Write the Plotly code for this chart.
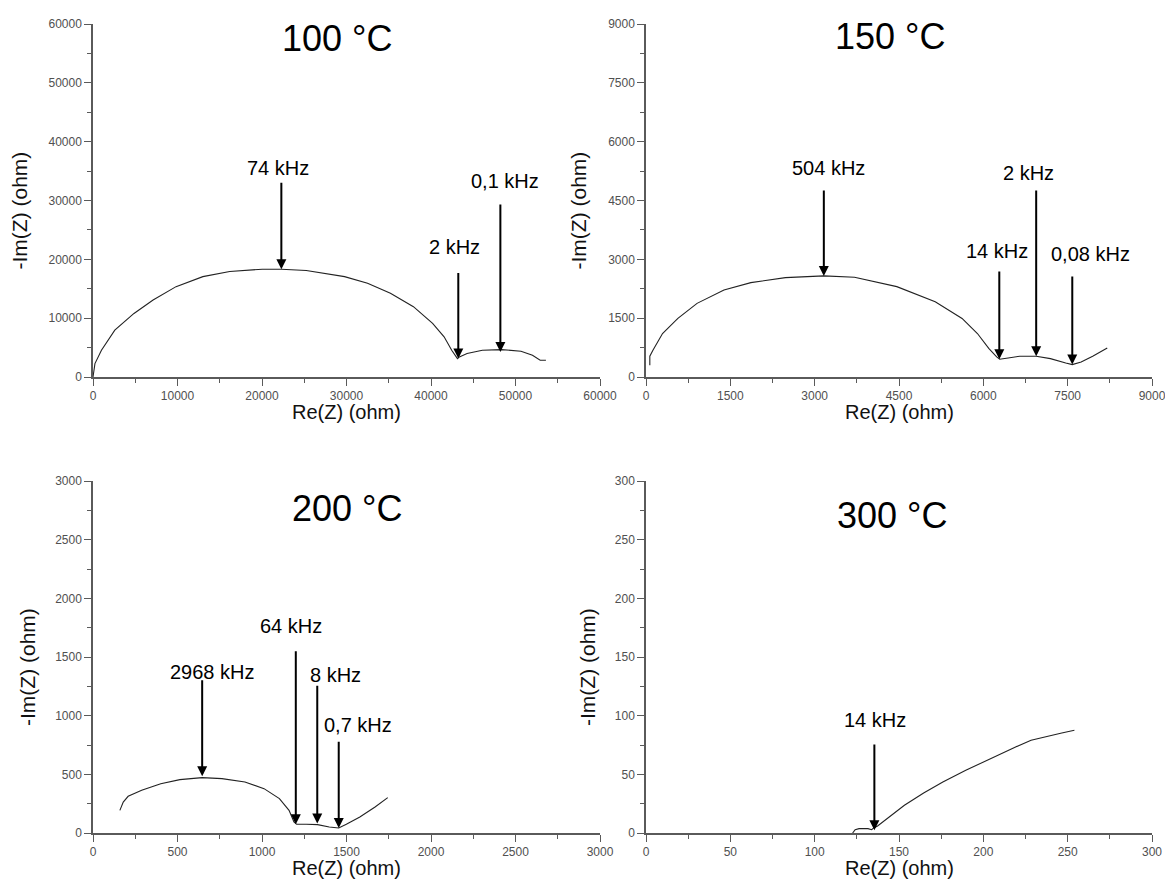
import plotly.graph_objects as go

# ---------------- data ----------------
re100 = [0, 230, 1000, 2580, 4850, 7110, 9830, 13000, 16180, 20030, 22290, 25240, 29770,
         32490, 35200, 37920, 40190, 41550, 42450, 43130, 43360, 44270, 46080, 48340,
         50650, 52010, 52920, 53600]
im100 = [0, 2275, 4550, 7960, 10800, 13080, 15360, 17060, 17920, 18320, 18320, 18090, 17060,
         15930, 14220, 11950, 9100, 6830, 4550, 3130, 3410, 3980, 4550, 4660,
         4380, 3700, 2840, 2840]

re150 = [68, 68, 123, 294, 567, 908, 1387, 1865, 2480, 3163, 3709, 4461, 5144, 5622, 5895,
         6100, 6237, 6291, 6441, 6646, 6940, 7193, 7466, 7582, 7740, 7945, 8204]
im150 = [299, 529, 683, 1109, 1493, 1877, 2218, 2406, 2534, 2577, 2543, 2304, 1920, 1493, 1109,
         725, 512, 452, 486, 529, 529, 469, 358, 316, 384, 529, 742]

re200 = [159, 179, 208, 288, 401, 514, 646, 763, 899, 1012, 1103, 1160, 1189, 1205, 1262,
         1329, 1398, 1454, 1499, 1579, 1669, 1744]
im200 = [193, 264, 313, 364, 420, 455, 472, 463, 435, 378, 293, 193, 94, 74, 74,
         71, 51, 43, 74, 136, 222, 301]

re300 = [122.5, 124, 126.3, 131.6, 133.8, 135, 137.3, 144.1, 153.2, 164.6, 176, 189.6,
         203.3, 216.9, 228.3, 237.4, 246.5, 254]
im300 = [0, 2.8, 3.7, 3.7, 2.8, 4.3, 6, 13.6, 23.6, 34.1, 43.5, 53.4,
         62.8, 71.9, 79, 82.4, 85.2, 87.5]

titles = ["100 °C", "150 °C", "200 °C", "300 °C"]
axis_max = [60000, 9000, 3000, 300]
major_step = [10000, 1500, 500, 50]

# frequency markers: label, Re at arrow, head (-Im), tail (-Im)
freq100 = ["74 kHz", "2 kHz", "0,1 kHz"]
mark_x100 = [22290, 43230, 48210]
mark_head100 = [18320, 3130, 4270]
mark_tail100 = [33280, 17920, 29580]

freq150 = ["504 kHz", "14 kHz", "2 kHz", "0,08 kHz"]
mark_x150 = [3163, 6284, 6940, 7582]
mark_head150 = [2577, 452, 529, 316]
mark_tail150 = [4795, 2730, 4795, 2602]

freq200 = ["2968 kHz", "64 kHz", "8 kHz", "0,7 kHz"]
mark_x200 = [646, 1200, 1327, 1454]
mark_head200 = [483, 74, 80, 43]
mark_tail200 = [1315, 1562, 1267, 790]

freq300 = ["14 kHz"]
mark_x300 = [135.4]
mark_head300 = [2.3]
mark_tail300 = [76.7]

# ---------------- layout geometry ----------------
PAGE_OFF = 8                      # default body margin of the html page
W, H = 1173 - PAGE_OFF, 883 - PAGE_OFF
px_x = [(93, 600), (646, 1152), (93, 600), (646, 1152)]   # page pixels
px_y = [(24, 377), (24, 377), (481, 833), (481, 833)]

label_pos = [
    [(21930, 35550), (42820, 22180), (48710, 33280)],
    [(3245, 5333), (6250, 3200), (6803, 5205), (7910, 3140)],
    [(707, 1372), (1171, 1761), (1436, 1344), (1567, 923)],
    [(135.7, 96.6)],
]
title_pos = [(28860, 57570), (4344, 8677), (1500, 2764), (145.7, 270.7)]

series = [(re100, im100), (re150, im150), (re200, im200), (re300, im300)]
marks = [
    (freq100, mark_x100, mark_head100, mark_tail100),
    (freq150, mark_x150, mark_head150, mark_tail150),
    (freq200, mark_x200, mark_head200, mark_tail200),
    (freq300, mark_x300, mark_head300, mark_tail300),
]

FONT = "Liberation Sans, Arial, sans-serif"
AXC = "#5a5a5a"


def fx(p):
    return (p - PAGE_OFF) / W


def fy(p):
    return 1 - (p - PAGE_OFF) / H


fig = go.Figure()
layout = dict(
    width=W, height=H,
    margin=dict(l=0, r=0, t=0, b=0, autoexpand=False),
    paper_bgcolor="white", plot_bgcolor="white",
    showlegend=False,
)

annotations = []
for i in range(4):
    n = "" if i == 0 else str(i + 1)
    xa, ya = "xaxis" + n, "yaxis" + n
    xr, yr = "x" + n, "y" + n
    (x0, x1), (y0, y1) = px_x[i], px_y[i]
    common = dict(
        range=[0, axis_max[i]], tick0=0, dtick=major_step[i], tickformat="d",
        showline=True, linecolor=AXC, linewidth=1.5,
        ticks="outside", ticklen=7, tickwidth=1.2, tickcolor=AXC,
        minor=dict(ticks="outside", ticklen=4, tickwidth=1, tickcolor=AXC,
                   dtick=major_step[i] / 2, tick0=0),
        showgrid=False, zeroline=False, automargin=False,
        tickfont=dict(family=FONT, size=12, color="#505050"),
        fixedrange=True,
    )
    layout[xa] = dict(common, domain=[fx(x0), fx(x1)], anchor=yr)
    layout[ya] = dict(common, domain=[fy(y1), fy(y0)], anchor=xr)

    re, im = series[i]
    fig.add_trace(go.Scatter(x=re, y=im, mode="lines", xaxis=xr, yaxis=yr,
                             line=dict(color="#222222", width=1.1), hoverinfo="skip"))

    annotations.append(dict(x=title_pos[i][0], y=title_pos[i][1], xref=xr, yref=yr,
                            text=titles[i], showarrow=False, xanchor="center", yanchor="middle",
                            font=dict(family=FONT, size=36, color="black")))
    labels, mx, mh, mt = marks[i]
    for k in range(len(labels)):
        annotations.append(dict(x=mx[k], y=mh[k], ax=mx[k], ay=mt[k],
                                xref=xr, yref=yr, axref=xr, ayref=yr,
                                text="", showarrow=True, arrowhead=2, arrowsize=1,
                                arrowwidth=2, arrowcolor="black", standoff=0))
        lx, ly = label_pos[i][k]
        annotations.append(dict(x=lx, y=ly, xref=xr, yref=yr, text=labels[k],
                                showarrow=False, xanchor="center", yanchor="middle",
                                font=dict(family=FONT, size=20, color="black")))
    annotations.append(dict(x=fx((x0 + x1) / 2), y=fy(y1 + 35), xref="paper", yref="paper",
                            text="Re(Z) (ohm)", showarrow=False, xanchor="center", yanchor="middle",
                            font=dict(family=FONT, size=20, color="#111")))
    ytx = {0: 19, 1: 578, 2: 27, 3: 587}[i]
    annotations.append(dict(x=fx(ytx), y=fy((y0 + y1) / 2 + 10), xref="paper", yref="paper",
                            text="-Im(Z) (ohm)", showarrow=False, textangle=-90,
                            xanchor="center", yanchor="middle",
                            font=dict(family=FONT, size=21, color="#111")))

layout["annotations"] = annotations
fig.update_layout(**layout)
fig.write_html("out.html")
